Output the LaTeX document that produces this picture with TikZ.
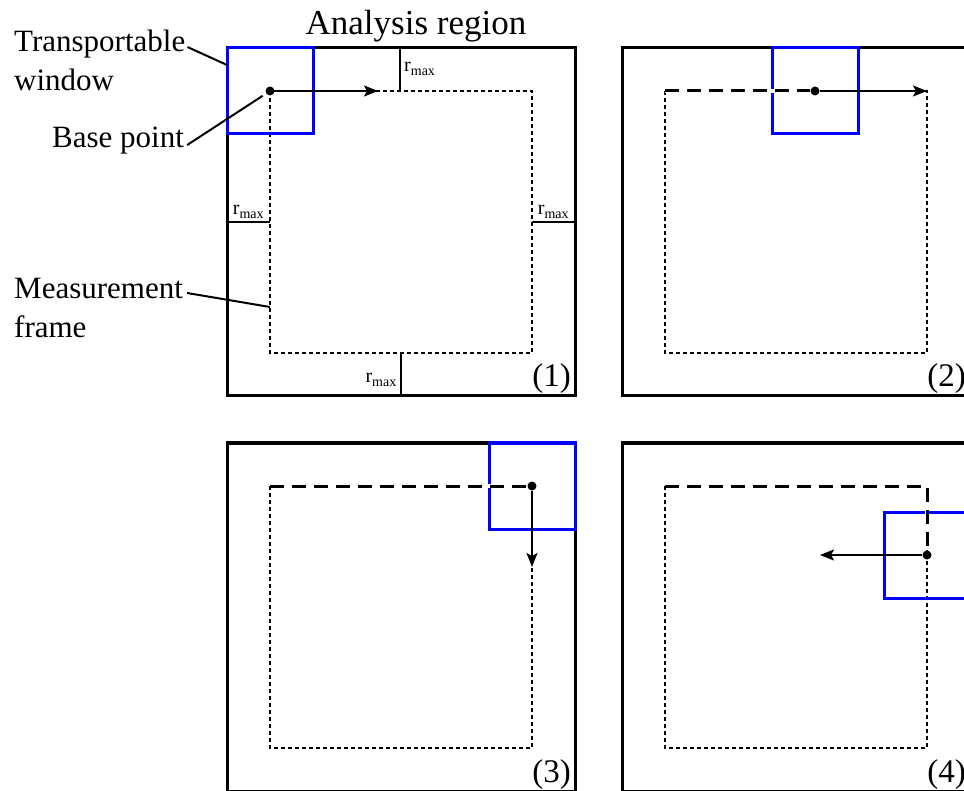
\documentclass[tikz,border=0pt]{standalone}
\usepackage{fontspec}
\setmainfont{Liberation Serif}
\usetikzlibrary{arrows.meta}

\tikzset{
  region/.style={line width=3pt},
  window/.style={draw=blue, line width=3pt},
  mframe/.style={line width=1.2pt, dash pattern=on 4pt off 3pt},
  visited/.style={preaction={draw=white, solid, line width=4pt}, line width=3pt, dash pattern=on 14pt off 8pt},
  shiftarrow/.style={line width=2.2pt, -{Stealth[length=14pt,width=11pt,inset=3pt]}},
  basept/.style={circle, fill, inner sep=0pt, minimum size=9pt},
  rmark/.style={line width=1.5pt},
  leader/.style={line width=2pt},
  callout/.style={font=\fontsize{31}{39}\selectfont, align=left, inner sep=0pt},
  rlabel/.style={font=\fontsize{20}{22}\selectfont, inner sep=0pt},
  stepnum/.style={font=\fontsize{33}{36}\selectfont, inner sep=0pt}
}

\begin{document}
\begin{tikzpicture}[x=1pt, y=-1pt]
    \useasboundingbox (0,0) rectangle (964,791);
    \clip (0,0) rectangle (964,791);

    % Title
    \node[font=\fontsize{35}{40}\selectfont, anchor=base, inner sep=0pt] (title) at (416,35) {Analysis region};

    % Step (1)
    \begin{scope}[shift={(227,48)}]
        \draw[region] (0,0) rectangle (348,348);
        \draw[mframe] (43,43) rectangle (305,305);
        % r_max marks
        \draw[rmark] (173,0) -- (173,43);
        \node[rlabel, anchor=base west] (rtop) at (177,24) {r\textsubscript{max}};
        \draw[rmark] (0,174) -- (43,174);
        \node[rlabel, anchor=base] (rleft) at (21.5,167) {r\textsubscript{max}};
        \draw[rmark] (305,174) -- (348,174);
        \node[rlabel, anchor=base] (rright) at (326.5,167) {r\textsubscript{max}};
        \draw[rmark] (174,305) -- (174,348);
        \node[rlabel, anchor=base east] (rbottom) at (170,335) {r\textsubscript{max}};
        % window and first shift
        \draw[window] (0,0) rectangle (86,86);
        \node[basept] (p1) at (43,43) {};
        \coordinate (a1) at (151,43);
        \draw[shiftarrow] (p1) -- (a1);
        \coordinate (twend) at (0,17);
        \coordinate (mfend) at (43,259);
        \node[stepnum, anchor=base east] (n1) at (344,339) {(1)};
    \end{scope}

    % Callouts
    \node[callout, anchor=north west] (tw) at (14,30) {Transportable\\window};
    \node[callout, anchor=base west] (bp) at (52,148) {Base point};
    \node[callout, anchor=north west] (mf) at (14,278) {Measurement\\frame};
    \draw[leader] (tw.north east) ++(2,17) -- (twend);
    \draw[leader, shorten >=4pt] (bp.east) ++(3,4) -- (p1);
    \draw[leader] (mf.north east) ++(4,15) -- (mfend);

    % Step (2)
    \begin{scope}[shift={(622,48)}]
        \draw[region] (0,0) rectangle (348,348);
        \draw[mframe] (43,43) rectangle (305,305);
        \draw[window] (150,0) rectangle (236,86);
        \node[basept] (p2) at (193,43) {};
        \draw[visited] (43,43) -- (p2);
        \coordinate (a2) at (305,43);
        \draw[shiftarrow] (p2) -- (a2);
        \node[stepnum, anchor=base east] (n2) at (344,339) {(2)};
    \end{scope}

    % Step (3)
    \begin{scope}[shift={(227,443)}]
        \draw[region] (0,0) rectangle (348,348);
        \draw[mframe] (43,43) rectangle (305,305);
        \draw[window] (262,0) rectangle (348,86);
        \node[basept] (p3) at (305,43) {};
        \draw[visited] (43,43) -- (p3);
        \coordinate (a3) at (305,124);
        \draw[shiftarrow] (p3) -- (a3);
        \node[stepnum, anchor=base east] (n3) at (344,339) {(3)};
    \end{scope}

    % Step (4)
    \begin{scope}[shift={(622,443)}]
        \draw[region] (0,0) rectangle (348,348);
        \draw[mframe] (43,43) rectangle (305,305);
        \draw[window] (262,69) rectangle (348,155);
        \node[basept] (p4) at (305,112) {};
        \draw[visited] (43,43) -- (305,43) -- (p4);
        \coordinate (a4) at (198,112);
        \draw[shiftarrow] (p4) -- (a4);
        \node[stepnum, anchor=base east] (n4) at (344,339) {(4)};
    \end{scope}

\end{tikzpicture}
\end{document}
